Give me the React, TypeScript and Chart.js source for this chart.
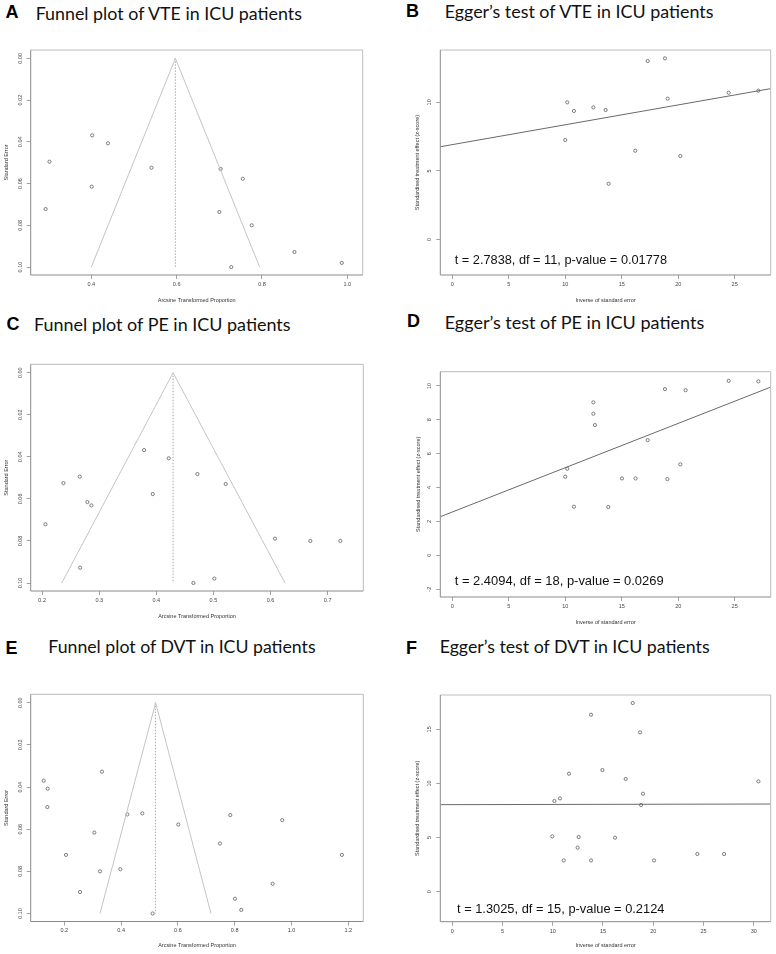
import React, { useEffect, useRef, useMemo } from "react";
import { Chart, registerables } from "chart.js";
Chart.register(...registerables);

// ---------------- DATA ----------------
// Panel A: Funnel plot of VTE
const vteFunnelEffect = [0.402, 0.439, 0.302, 0.541, 0.401, 0.293, 0.703, 0.755, 0.700, 0.776, 0.876, 0.728, 0.987];
const vteFunnelSE = [0.0369, 0.0407, 0.0495, 0.0524, 0.0615, 0.0722, 0.0530, 0.0577, 0.0736, 0.0800, 0.0928, 0.1000, 0.0980];
const vteFunnelTriangleX = [0.400, 0.597, 0.7945];
const vteFunnelCenterX = [0.597, 0.597];

// Panel B: Egger's test of VTE
const vteEggerPrecision = [10.18, 10.77, 10.0, 12.49, 13.58, 13.84, 16.2, 17.3, 18.83, 19.07, 20.19, 24.47, 27.1];
const vteEggerZ = [10.0, 9.37, 7.25, 9.63, 9.44, 4.06, 6.47, 13.02, 13.21, 10.27, 6.08, 10.7, 10.85];
const vteEggerLineX = [-1.06, 28.19];
const vteEggerLineZ = [6.76, 11.0];

// Panel C: Funnel plot of PE
const peFunnelEffect = [0.3785, 0.4217, 0.2659, 0.2373, 0.3937, 0.2793, 0.2863, 0.2058, 0.2665, 0.4719, 0.5215, 0.6078, 0.6697, 0.7222, 0.4649, 0.5016];
const peFunnelSE = [0.0368, 0.0407, 0.0494, 0.0525, 0.0577, 0.0615, 0.0631, 0.0721, 0.0927, 0.0482, 0.0529, 0.0789, 0.0800, 0.0800, 0.1000, 0.0979];
const peFunnelTriangleX = [0.2344, 0.4293, 0.6253];
const peFunnelCenterX = [0.4293, 0.4293];

// Panel D: Egger's test of PE
const peEggerPrecision = [12.49, 12.49, 12.63, 10.0, 10.18, 10.77, 13.81, 15.02, 16.23, 17.3, 18.83, 20.66, 19.04, 20.19, 24.47, 27.1];
const peEggerZ = [9.03, 8.36, 7.69, 4.64, 5.11, 2.87, 2.85, 4.54, 4.54, 6.80, 9.81, 9.75, 4.50, 5.37, 10.30, 10.27];
const peEggerLineX = [-1.06, 28.19];
const peEggerLineZ = [2.28, 9.93];

// Panel E: Funnel plot of DVT
const dvtFunnelEffect = [0.1272, 0.1413, 0.1401, 0.3326, 0.2059, 0.3056, 0.2552, 0.3256, 0.3972, 0.4218, 0.4746, 0.511, 0.6014, 0.7481, 0.7845, 0.9676, 0.801, 0.8232, 0.9336, 1.1777];
const dvtFunnelSE = [0.0370, 0.0408, 0.0495, 0.0327, 0.0722, 0.0616, 0.0898, 0.0800, 0.0790, 0.0530, 0.0525, 0.1000, 0.0578, 0.0668, 0.0533, 0.0557, 0.0930, 0.0983, 0.0859, 0.0722];
const dvtFunnelTriangleX = [0.3256, 0.5216, 0.7164];
const dvtFunnelCenterX = [0.5206, 0.5206];

// Panel F: Egger's test of DVT
const dvtEggerPrecision = [9.96, 10.16, 10.72, 11.62, 11.09, 12.48, 12.58, 13.81, 13.81, 14.94, 16.2, 17.26, 17.96, 18.69, 18.79, 18.98, 20.08, 24.39, 27.05, 30.47];
const dvtEggerZ = [5.11, 8.38, 8.62, 10.9, 2.89, 4.07, 5.05, 16.35, 2.89, 11.24, 4.99, 10.41, 17.43, 14.72, 8.01, 9.05, 2.89, 3.48, 3.48, 10.19];
const dvtEggerLineX = [-1.19, 31.69];
const dvtEggerLineZ = [8.04, 8.10];

// Funnel shared
const funnelTriangleSE = [0.10, 0.0, 0.10];
const funnelCenterSE = [0.0, 0.10];
const funnelYTicks = [0, 0.02, 0.04, 0.06, 0.08, 0.10];
const funnelYTickLabels = ["0.00", "0.02", "0.04", "0.06", "0.08", "0.10"];

// Tick values & labels
const vteFunnelXTicks = [0.4, 0.6, 0.8, 1.0];
const vteFunnelXTickLabels = ["0.4", "0.6", "0.8", "1.0"];
const peFunnelXTicks = [0.2, 0.3, 0.4, 0.5, 0.6, 0.7];
const peFunnelXTickLabels = ["0.2", "0.3", "0.4", "0.5", "0.6", "0.7"];
const dvtFunnelXTicks = [0.2, 0.4, 0.6, 0.8, 1.0, 1.2];
const dvtFunnelXTickLabels = ["0.2", "0.4", "0.6", "0.8", "1.0", "1.2"];

const eggerXTicks25 = [0, 5, 10, 15, 20, 25];
const eggerXTickLabels25 = ["0", "5", "10", "15", "20", "25"];
const eggerXTicks30 = [0, 5, 10, 15, 20, 25, 30];
const eggerXTickLabels30 = ["0", "5", "10", "15", "20", "25", "30"];
const vteEggerYTicks = [0, 5, 10];
const vteEggerYTickLabels = ["0", "5", "10"];
const peEggerYTicks = [-2, 0, 2, 4, 6, 8, 10];
const peEggerYTickLabels = ["-2", "0", "2", "4", "6", "8", "10"];
const dvtEggerYTicks = [0, 5, 10, 15];
const dvtEggerYTickLabels = ["0", "5", "10", "15"];

// Axis ranges (R-style 4% expanded)
const funnelYRange = [-0.004, 0.1038];
const vteFunnelXRange = [0.258, 1.036];
const peFunnelXRange = [0.180, 0.7624];
const dvtFunnelXRange = [0.0815, 1.253];
const vteEggerXRange = [-1.06, 28.19];
const vteEggerYRange = [-2.6, 13.82];
const peEggerXRange = [-1.06, 28.19];
const peEggerYRange = [-2.46, 10.84];
const dvtEggerXRange = [-1.19, 31.69];
const dvtEggerYRange = [-2.77, 18.17];

// Texts
const panelLetters = ["A", "B", "C", "D", "E", "F"];
const panelTitles = [
  "Funnel plot of VTE in ICU patients",
  "Egger\u2019s test of VTE in ICU patients",
  "Funnel plot of PE in ICU patients",
  "Egger\u2019s test of PE in ICU patients",
  "Funnel plot of DVT in ICU patients",
  "Egger\u2019s test of DVT in ICU patients",
];
const eggerStats = [
  "t = 2.7838, df = 11, p-value = 0.01778",
  "t = 2.4094, df = 18, p-value = 0.0269",
  "t = 1.3025, df = 15, p-value = 0.2124",
];
const funnelXTitle = "Arcsine Transformed Proportion";
const funnelYTitle = "Standard Error";
const eggerXTitle = "Inverse of standard error";
const eggerYTitle = "Standardised treatment effect (z-score)";

// ---------------- STYLE ----------------
const AXIS_FONT = "'Liberation Sans', Arial, Helvetica, sans-serif";
const TITLE_FONT = "Lato, 'Open Sans', sans-serif";
const SMALL = 5.5;
const TEXT_GRAY = "#444";

const toPts = (xs: number[], ys: number[]) => xs.map((x, i) => ({ x, y: ys[i] }));

function pointsDataset(xs: number[], ys: number[]) {
  return {
    data: toPts(xs, ys),
    showLine: false,
    pointRadius: 1.6,
    pointBorderWidth: 0.8,
    pointBorderColor: "#606060",
    pointBackgroundColor: "rgba(255,255,255,0)",
    pointHoverRadius: 1.6,
  };
}

function funnelDatasets(effect: number[], se: number[], triX: number[], centerX: number[]) {
  return [
    {
      data: toPts(triX, funnelTriangleSE),
      showLine: true,
      borderColor: "#c4c4c4",
      borderWidth: 1,
      pointRadius: 0,
      fill: false,
    },
    {
      data: toPts(centerX, funnelCenterSE),
      showLine: true,
      borderColor: "#a8a8a8",
      borderWidth: 1,
      borderDash: [1.5, 1.5],
      pointRadius: 0,
      fill: false,
    },
    pointsDataset(effect, se),
  ];
}

function eggerDatasets(prec: number[], z: number[], lineX: number[], lineZ: number[]) {
  return [
    {
      data: toPts(lineX, lineZ),
      showLine: true,
      borderColor: "#6a6a6a",
      borderWidth: 1,
      pointRadius: 0,
      fill: false,
    },
    pointsDataset(prec, z),
  ];
}

type PanelDef = {
  left: number; top: number; width: number; height: number;
  box: number[]; // abs left, top, right, bottom
  xRange: number[]; yRange: number[]; reverseY: boolean;
  xTicks: number[]; xTickLabels: string[];
  yTicks: number[]; yTickLabels: string[];
  xTitle: string; yTitle: string;
  xTitleY: number; yTitleX: number;
  datasets: any[];
};

const rPlotPlugin = {
  id: "rplot",
  afterDraw(chart: any, _args: any, opts: any) {
    const { ctx, chartArea: a } = chart;
    ctx.save();
    ctx.lineWidth = 1;
    const seg = (x1: number, y1: number, x2: number, y2: number, c: string) => {
      ctx.strokeStyle = c;
      ctx.beginPath();
      ctx.moveTo(x1, y1);
      ctx.lineTo(x2, y2);
      ctx.stroke();
    };
    seg(a.left, a.top, a.right, a.top, "#bcbcbc");
    seg(a.right, a.top, a.right, a.bottom, "#bcbcbc");
    seg(a.left, a.top, a.left, a.bottom, "#8a8a8a");
    seg(a.left, a.bottom, a.right, a.bottom, "#8a8a8a");
    // rotated y tick labels (R las=0 style)
    const ys = chart.scales.y;
    const labels: string[] = opts.yLabels || [];
    ctx.fillStyle = TEXT_GRAY;
    ctx.font = `${SMALL}px ${AXIS_FONT}`;
    ctx.textAlign = "center";
    ctx.textBaseline = "middle";
    ys.ticks.forEach((t: any, i: number) => {
      const py = ys.getPixelForValue(t.value);
      ctx.save();
      ctx.translate(a.left - 10.5, py);
      ctx.rotate(-Math.PI / 2);
      ctx.fillText(labels[i] ?? "", 0, 0);
      ctx.restore();
    });
    ctx.restore();
  },
};

function Panel({ def }: { def: PanelDef }) {
  const ref = useRef<HTMLCanvasElement>(null);
  useEffect(() => {
    const d = def;
    const lh = SMALL * 1.2;
    const yAxisW = d.box[0] - d.left;
    const padTop = d.box[1] - d.top;
    const padRight = d.left + d.width - d.box[2];
    const xAxisH = d.top + d.height - d.box[3];
    const xTitlePad = d.top + d.height - d.xTitleY - lh / 2;
    const yTitlePad = d.yTitleX - d.left - lh / 2;
    const gridOpts = {
      display: true,
      drawOnChartArea: false,
      drawTicks: true,
      tickLength: 4,
      color: "#8a8a8a",
      lineWidth: 0.8,
    };
    const chart = new Chart(ref.current as HTMLCanvasElement, {
      type: "scatter",
      data: { datasets: d.datasets },
      options: {
        responsive: false,
        animation: false,
        devicePixelRatio: 1,
        events: [],
        layout: { padding: { left: 0, top: padTop, right: padRight, bottom: 0 } },
        plugins: {
          legend: { display: false },
          tooltip: { enabled: false },
          rplot: { yLabels: d.yTickLabels },
        } as any,
        scales: {
          x: {
            type: "linear",
            min: d.xRange[0],
            max: d.xRange[1],
            afterBuildTicks: (s: any) => { s.ticks = d.xTicks.map((v) => ({ value: v })); },
            afterFit: (s: any) => { s.height = xAxisH; },
            grid: gridOpts,
            border: { display: false },
            ticks: {
              autoSkip: false,
              maxRotation: 0,
              minRotation: 0,
              padding: 2,
              color: TEXT_GRAY,
              font: { family: AXIS_FONT, size: SMALL },
              callback: (_v: any, i: number) => d.xTickLabels[i],
            },
            title: {
              display: true,
              text: d.xTitle,
              color: "#333",
              font: { family: AXIS_FONT, size: SMALL },
              padding: { top: 0, bottom: xTitlePad },
            },
          },
          y: {
            type: "linear",
            min: d.yRange[0],
            max: d.yRange[1],
            reverse: d.reverseY,
            afterBuildTicks: (s: any) => { s.ticks = d.yTicks.map((v) => ({ value: v })); },
            afterFit: (s: any) => { s.width = yAxisW; },
            grid: gridOpts,
            border: { display: false },
            ticks: { display: false },
            title: {
              display: true,
              text: d.yTitle,
              color: "#333",
              font: { family: AXIS_FONT, size: SMALL },
              padding: { top: yTitlePad, bottom: 0 },
            },
          },
        },
      } as any,
      plugins: [rPlotPlugin],
    });
    return () => chart.destroy();
  }, [def]);
  return (
    <canvas
      ref={ref}
      width={def.width}
      height={def.height}
      style={{ position: "absolute", left: def.left, top: def.top, width: def.width, height: def.height }}
    />
  );
}

function measure(text: string, font: string) {
  const c = document.createElement("canvas").getContext("2d") as CanvasRenderingContext2D;
  c.font = font;
  return c.measureText(text).width;
}

function FitText({ text, left, baseline, width, family, weight, ascentRatio, color }: any) {
  const size = useMemo(() => {
    const w = measure(text, `${weight} 100px ${family}`);
    return (100 * width) / w;
  }, [text, width, family, weight]);
  return (
    <div
      style={{
        position: "absolute",
        left,
        top: baseline - ascentRatio * size,
        fontFamily: family,
        fontWeight: weight,
        fontSize: size,
        lineHeight: 1,
        whiteSpace: "nowrap",
        color,
      }}
    >
      {text}
    </div>
  );
}

function Letter({ text, left, baseline }: any) {
  const size = 18;
  return (
    <div
      style={{
        position: "absolute",
        left,
        top: baseline - 0.8467 * size,
        fontFamily: AXIS_FONT,
        fontWeight: 700,
        fontSize: size,
        lineHeight: 1,
        color: "#000",
      }}
    >
      {text}
    </div>
  );
}

const panels: PanelDef[] = [
  {
    left: 0, top: 30, width: 388, height: 280,
    box: [30.7, 50, 362.7, 275],
    xRange: vteFunnelXRange, yRange: funnelYRange, reverseY: true,
    xTicks: vteFunnelXTicks, xTickLabels: vteFunnelXTickLabels,
    yTicks: funnelYTicks, yTickLabels: funnelYTickLabels,
    xTitle: funnelXTitle, yTitle: funnelYTitle, xTitleY: 300, yTitleX: 6,
    datasets: funnelDatasets(vteFunnelEffect, vteFunnelSE, vteFunnelTriangleX, vteFunnelCenterX),
  },
  {
    left: 388, top: 30, width: 388, height: 280,
    box: [440.3, 50, 770.7, 275],
    xRange: vteEggerXRange, yRange: vteEggerYRange, reverseY: false,
    xTicks: eggerXTicks25, xTickLabels: eggerXTickLabels25,
    yTicks: vteEggerYTicks, yTickLabels: vteEggerYTickLabels,
    xTitle: eggerXTitle, yTitle: eggerYTitle, xTitleY: 300, yTitleX: 417.3,
    datasets: eggerDatasets(vteEggerPrecision, vteEggerZ, vteEggerLineX, vteEggerLineZ),
  },
  {
    left: 0, top: 340, width: 388, height: 290,
    box: [30.7, 364.3, 363.3, 591],
    xRange: peFunnelXRange, yRange: funnelYRange, reverseY: true,
    xTicks: peFunnelXTicks, xTickLabels: peFunnelXTickLabels,
    yTicks: funnelYTicks, yTickLabels: funnelYTickLabels,
    xTitle: funnelXTitle, yTitle: funnelYTitle, xTitleY: 616, yTitleX: 6,
    datasets: funnelDatasets(peFunnelEffect, peFunnelSE, peFunnelTriangleX, peFunnelCenterX),
  },
  {
    left: 388, top: 340, width: 388, height: 290,
    box: [440.3, 371.7, 770.7, 597],
    xRange: peEggerXRange, yRange: peEggerYRange, reverseY: false,
    xTicks: eggerXTicks25, xTickLabels: eggerXTickLabels25,
    yTicks: peEggerYTicks, yTickLabels: peEggerYTickLabels,
    xTitle: eggerXTitle, yTitle: eggerYTitle, xTitleY: 622, yTitleX: 418.5,
    datasets: eggerDatasets(peEggerPrecision, peEggerZ, peEggerLineX, peEggerLineZ),
  },
  {
    left: 0, top: 665, width: 388, height: 289,
    box: [30.7, 694.3, 363.3, 921.5],
    xRange: dvtFunnelXRange, yRange: funnelYRange, reverseY: true,
    xTicks: dvtFunnelXTicks, xTickLabels: dvtFunnelXTickLabels,
    yTicks: funnelYTicks, yTickLabels: funnelYTickLabels,
    xTitle: funnelXTitle, yTitle: funnelYTitle, xTitleY: 945.7, yTitleX: 6,
    datasets: funnelDatasets(dvtFunnelEffect, dvtFunnelSE, dvtFunnelTriangleX, dvtFunnelCenterX),
  },
  {
    left: 388, top: 665, width: 388, height: 289,
    box: [440.3, 695, 770.7, 921.7],
    xRange: dvtEggerXRange, yRange: dvtEggerYRange, reverseY: false,
    xTicks: eggerXTicks30, xTickLabels: eggerXTickLabels30,
    yTicks: dvtEggerYTicks, yTickLabels: dvtEggerYTickLabels,
    xTitle: eggerXTitle, yTitle: eggerYTitle, xTitleY: 945.7, yTitleX: 417.3,
    datasets: eggerDatasets(dvtEggerPrecision, dvtEggerZ, dvtEggerLineX, dvtEggerLineZ),
  },
];

// header positions: [letterLeft, letterBaseline, titleLeft, titleBaseline, titleWidth]
const headerLayout = [
  [5.5, 18.5, 35.7, 20.7, 267.3],
  [406, 17, 444.7, 19.3, 270],
  [6.5, 330.5, 34, 331.7, 257],
  [407, 327, 444.7, 329.3, 260],
  [5.5, 654.5, 48.3, 653.3, 268.4],
  [406, 654.5, 439.7, 653.3, 271],
];
// stat text positions: [left, baseline, width]
const statLayout = [
  [454.7, 265, 212.7],
  [454.7, 585.7, 209.3],
  [457, 914, 207.7],
];

export default function App() {
  return (
    <div
      style={{
        position: "absolute",
        left: 0,
        top: 0,
        width: 776,
        height: 954,
        background: "#fff",
        overflow: "hidden",
      }}
    >
      {panels.map((p, i) => (
        <Panel key={i} def={p} />
      ))}
      {headerLayout.map((h, i) => (
        <React.Fragment key={"h" + i}>
          <Letter text={panelLetters[i]} left={h[0]} baseline={h[1]} />
          <FitText
            text={panelTitles[i]}
            left={h[2]}
            baseline={h[3]}
            width={h[4]}
            family={TITLE_FONT}
            weight={400}
            ascentRatio={0.887}
            color="#111"
          />
        </React.Fragment>
      ))}
      {statLayout.map((s, i) => (
        <FitText
          key={"s" + i}
          text={eggerStats[i]}
          left={s[0]}
          baseline={s[1]}
          width={s[2]}
          family={AXIS_FONT}
          weight={400}
          ascentRatio={0.8467}
          color="#111"
        />
      ))}
    </div>
  );
}
